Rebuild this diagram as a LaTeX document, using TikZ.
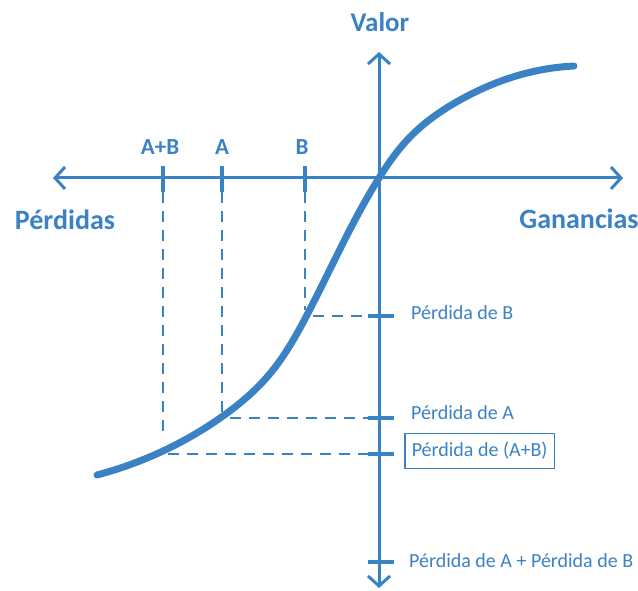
\documentclass[tikz,border=0pt]{standalone}
\usepackage{fontspec}
\setmainfont{Carlito}
\usetikzlibrary{arrows.meta,hobby}
\definecolor{pblue}{RGB}{59,130,196}
\begin{document}
\begin{tikzpicture}[x=1pt,y=-1pt,
  axisline/.style={pblue,line width=3pt,{Straight Barb[length=10pt,width=22pt,line width=3pt]}-{Straight Barb[length=10pt,width=22pt,line width=3pt]}},
  tickmark/.style={pblue,line width=4pt},
  guide/.style={pblue,line width=2pt,dash pattern=on 11pt off 8pt},
  biglabel/.style={text=pblue,font=\fontsize{28}{28}\selectfont\bfseries,inner sep=0pt},
  ticklabel/.style={text=pblue,font=\fontsize{23}{23}\selectfont\bfseries,inner sep=0pt},
  losslabel/.style={text=pblue,font=\fontsize{20}{20}\selectfont,inner sep=0pt,anchor=west}]
\useasboundingbox (0,0) rectangle (638,591);
% axes
\coordinate (L) at (53,178);
\coordinate (R) at (623,178);
\coordinate (T) at (379,52);
\coordinate (D) at (379,588);
\draw[axisline] (L) -- (R);
\draw[axisline] (T) -- (D);
% ticks on horizontal axis (screen: 166 to 192)
\coordinate (tAB) at (163,178);
\coordinate (tA) at (222,178);
\coordinate (tB) at (305,178);
\foreach \t in {tAB,tA,tB}{\draw[tickmark] ([yshift=12pt]\t) -- ([yshift=-14pt]\t);}
% ticks on vertical axis
\coordinate (vB) at (379,316);
\coordinate (vA) at (379,418);
\coordinate (vAB) at (379,454);
\coordinate (vS) at (379,562);
\foreach \t in {vB,vA,vAB,vS}{\draw[tickmark] ([xshift=-11pt]\t) -- ([xshift=15pt]\t);}
% curve points
\coordinate (cAB) at (163,451);
\coordinate (cA) at (222,417);
\coordinate (cB) at (305,316);
% guides
\draw[guide] ([yshift=-14pt]tAB) -- ([yshift=12pt]cAB);
\draw[guide] ([yshift=-14pt]tA) -- ([yshift=3pt]cA);
\draw[guide] ([yshift=-14pt]tB) -- ([yshift=6pt]cB);
\draw[guide] ([xshift=5pt]vAB -| cAB) -- ([xshift=-11pt]vAB);
\draw[guide] ([xshift=8pt]vA -| cA) -- ([xshift=-11pt]vA);
\draw[guide] ([xshift=8pt]vB -| cB) -- ([xshift=-11pt]vB);
% value curve
\draw[pblue,line width=7pt,line cap=round,use Hobby shortcut]
  (97,475) .. (163,451) .. (223,416) .. (268,376) .. (307,315) .. (379,178) .. (410,137) .. (460,100) .. (527,73) .. (574,66);
% labels
\node[biglabel,font=\fontsize{27}{27}\selectfont\bfseries] (valor) at (380,22) {Valor};
\node[biglabel] (perd) at (65,220) {Pérdidas};
\node[biglabel] (gan) at (579,219) {Ganancias};
\node[ticklabel] (lAB) at (160,147) {A+B};
\node[ticklabel] (lA) at (222,147) {A};
\node[ticklabel] (lB) at (302,147) {B};
\node[losslabel] (pB) at (411,313) {Pérdida de B};
\node[losslabel] (pA) at (411,413) {Pérdida de A};
\node[losslabel,draw=pblue,line width=1.5pt,inner xsep=7pt,minimum height=35pt] (pAB) at (404,451) {Pérdida de (A+B)};
\node[losslabel] (pS) at (409,561) {Pérdida de A + Pérdida de B};
\end{tikzpicture}
\end{document}
